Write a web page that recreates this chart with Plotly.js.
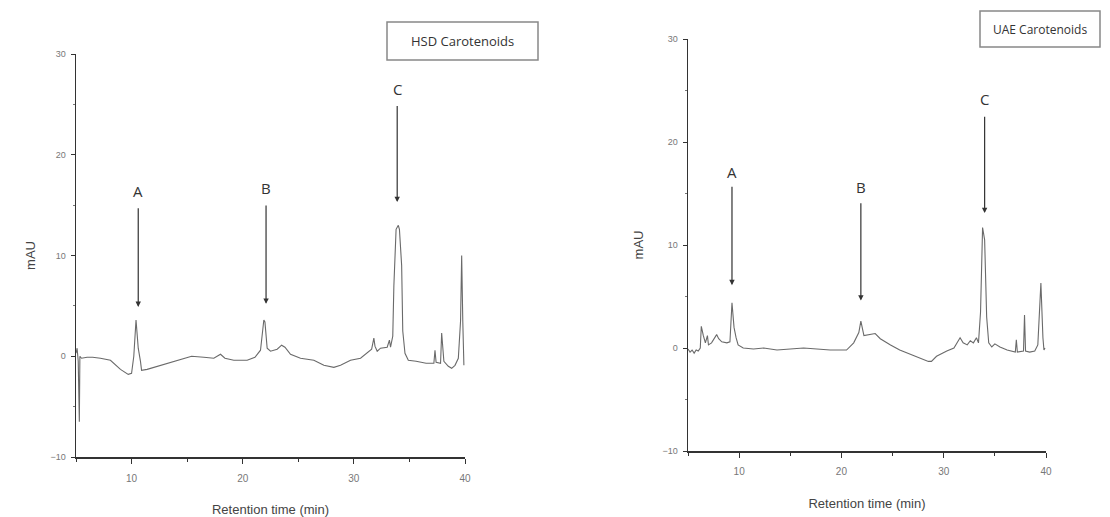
<!DOCTYPE html>
<html>
<head>
<meta charset="utf-8">
<script src="https://cdn.plot.ly/plotly-3.0.1.min.js"></script>
<style>html,body{margin:0;padding:0;background:#fff;}#chart{width:1110px;height:517px;}</style>
</head>
<body>
<div id="chart"></div>
<script>
// HSD carotenoids chromatogram (left panel)
const hsdTime = [5.0,5.1,5.2,5.3,5.35,5.5,6.0,6.5,7.2,8.1,9.0,9.7,10.0,10.2,10.4,10.5,10.6,10.8,10.9,11.4,12.3,13.2,14.4,15.4,16.5,17.4,18.0,18.4,19.2,20.4,21.1,21.6,21.9,22.0,22.2,22.5,23.1,23.5,23.8,24.3,25.2,26.4,27.3,28.2,28.8,29.7,30.6,31.2,31.6,31.8,31.9,32.1,32.4,33.0,33.2,33.3,33.5,33.6,33.8,34.0,34.1,34.3,34.4,34.6,34.9,35.6,36.5,37.2,37.3,37.4,37.8,37.9,38.1,38.5,38.8,39.1,39.4,39.6,39.7,39.8,39.9];
const hsdMAU  = [0.3,0.8,-0.5,-6.5,0.0,-0.2,-0.1,-0.1,-0.2,-0.4,-1.3,-1.8,-1.7,0.0,3.6,1.5,0.8,-0.5,-1.4,-1.3,-1.0,-0.7,-0.3,0.0,-0.1,-0.2,0.2,-0.2,-0.4,-0.4,-0.1,0.6,3.6,3.4,0.8,0.5,0.7,1.1,0.9,0.2,-0.2,-0.4,-0.9,-1.1,-0.9,-0.4,-0.2,0.3,0.7,1.8,1.0,0.5,0.8,0.9,1.6,0.9,2.0,7.0,12.6,13.0,12.6,9.0,2.5,0.3,-0.4,-0.5,-0.7,-0.7,0.6,-0.6,-0.7,2.3,-0.5,-1.0,-1.2,-0.9,-0.2,3.5,10.0,3.5,-0.9];

// UAE carotenoids chromatogram (right panel)
const uaeTime = [5.0,5.2,5.4,5.6,5.8,6.0,6.2,6.3,6.5,6.7,6.9,7.0,7.3,7.8,8.0,8.3,8.8,9.1,9.3,9.4,9.5,9.7,9.9,10.4,11.4,12.4,13.7,15.0,16.3,17.6,18.9,20.5,21.2,21.7,21.9,22.2,22.6,23.3,23.8,24.1,24.8,25.7,26.7,27.7,28.5,28.8,29.3,30.3,31.0,31.6,31.9,32.3,32.6,32.9,33.2,33.4,33.6,33.8,34.0,34.2,34.4,34.7,35.0,35.5,36.2,37.0,37.1,37.2,37.8,37.9,38.0,38.4,38.9,39.2,39.5,39.7,39.8,39.9];
const uaeMAU  = [-0.1,-0.4,-0.2,-0.5,-0.2,-0.3,0.0,2.1,1.2,0.5,1.2,0.3,0.5,1.3,0.9,0.6,0.5,0.6,4.4,2.5,2.0,1.0,0.3,0.0,-0.1,0.0,-0.2,-0.1,0.0,-0.1,-0.2,-0.2,0.5,1.5,2.6,1.2,1.3,1.4,0.9,0.7,0.3,-0.2,-0.6,-1.0,-1.3,-1.3,-0.8,-0.3,0.0,1.0,0.5,0.3,0.7,0.5,1.0,0.5,3.5,11.7,10.5,3.0,0.5,0.1,0.4,0.1,-0.2,-0.4,0.8,-0.4,-0.3,3.2,-0.3,-0.4,-0.3,0.3,6.3,1.0,-0.2,0.0];

// Peak labels
const peakNames = ['A','B','C'];
const hsdPeakX   = [10.6, 22.1, 33.9];
const hsdHeadY   = [4.9, 5.2, 15.3];
const hsdTailY   = [14.85, 15.1, 25.0];
const hsdLabelY  = [16.4, 16.7, 26.5];
const uaePeakX   = [9.3, 21.9, 34.0];
const uaeHeadY   = [6.1, 4.6, 13.1];
const uaeTailY   = [15.8, 14.2, 22.6];
const uaeLabelY  = [17.1, 15.6, 24.2];

const panelTitles = ['HSD Carotenoids', 'UAE Carotenoids'];
const xTitle = 'Retention time (min)';
const yTitle = 'mAU';

const narrow = '"Liberation Sans Narrow", "Open Sans", sans-serif';
const axisCol = '#333';
const lineCol = '#6a6a6a';

const traces = [
  {x: hsdTime, y: hsdMAU, xaxis: 'x', yaxis: 'y', type: 'scatter', mode: 'lines',
   line: {color: lineCol, width: 1.1}, hoverinfo: 'x+y'},
  {x: uaeTime, y: uaeMAU, xaxis: 'x2', yaxis: 'y2', type: 'scatter', mode: 'lines',
   line: {color: lineCol, width: 1.1}, hoverinfo: 'x+y'}
];

function xAxis(domain, anchor, standoff, labelOff) {
  return {
    domain: domain, anchor: anchor, range: [5, 40], dtick: 10, tick0: 0,
    showgrid: false, zeroline: false, showline: true, linecolor: axisCol, linewidth: 1.5,
    ticks: 'outside', ticklen: 5, tickwidth: 1, tickcolor: axisCol, ticklabelstandoff: labelOff,
    minor: {dtick: 5, ticks: 'outside', ticklen: 3, tickcolor: axisCol, showgrid: false},
    tickfont: {family: 'Liberation Sans, Arial, sans-serif', size: 10, color: '#777'},
    title: {text: xTitle, font: {family: 'Liberation Sans, Arial, sans-serif', size: 13, color: '#444'}, standoff: standoff},
    fixedrange: true
  };
}
function yAxis(domain, anchor, standoff) {
  return {
    domain: domain, anchor: anchor, range: [-10, 30], dtick: 10,
    showgrid: false, zeroline: false, showline: true, linecolor: axisCol, linewidth: 1.5,
    ticks: 'outside', ticklen: 4, tickwidth: 1, tickcolor: axisCol, ticklabelstandoff: 3,
    minor: {dtick: 5, ticks: 'outside', ticklen: 2, tickcolor: '#777', showgrid: false},
    tickfont: {family: 'Liberation Sans, Arial, sans-serif', size: 9, color: '#777'},
    title: {text: yTitle, font: {family: 'Liberation Sans, Arial, sans-serif', size: 13, color: '#444'}, standoff: standoff},
    fixedrange: true
  };
}

const annotations = [];
function addPeaks(xs, heads, tails, labels, xr, yr) {
  for (let i = 0; i < peakNames.length; i++) {
    annotations.push({
      x: xs[i], y: heads[i], ax: xs[i], ay: tails[i], xref: xr, yref: yr, axref: xr, ayref: yr,
      text: '', showarrow: true, arrowhead: 2, arrowsize: 0.9, arrowwidth: 1.2, arrowcolor: '#333'
    });
    annotations.push({
      x: xs[i], y: labels[i], xref: xr, yref: yr, text: peakNames[i], showarrow: false,
      xanchor: 'center', yanchor: 'middle',
      font: {family: narrow, size: 15, color: '#333'}
    });
  }
}
addPeaks(hsdPeakX, hsdHeadY, hsdTailY, hsdLabelY, 'x', 'y');
addPeaks(uaePeakX, uaeHeadY, uaeTailY, uaeLabelY, 'x2', 'y2');

// boxed panel titles
const boxes = [
  {x0: 387, x1: 538, y0: 22, y1: 60},
  {x0: 980, x1: 1100, y0: 11, y1: 47}
];
const W = 1110, H = 517;
const shapes = boxes.map(b => ({
  type: 'rect', xref: 'paper', yref: 'paper',
  x0: b.x0 / W, x1: b.x1 / W, y0: 1 - b.y1 / H, y1: 1 - b.y0 / H,
  line: {color: '#888', width: 1.5}, fillcolor: 'rgba(0,0,0,0)'
}));
boxes.forEach((b, i) => {
  annotations.push({
    x: (b.x0 + b.x1) / 2 / W, y: 1 - (b.y0 + b.y1) / 2 / H, xref: 'paper', yref: 'paper',
    xanchor: 'center', yanchor: 'middle',
    text: panelTitles[i], showarrow: false,
    font: {family: narrow, size: i === 0 ? 13 : 12, color: '#333'}
  });
});

const layout = {
  width: W, height: H,
  margin: {l: 0, r: 0, t: 0, b: 0},
  paper_bgcolor: '#fff', plot_bgcolor: '#fff',
  showlegend: false,
  xaxis: xAxis([76 / W, 465 / W], 'y', 29, 6),
  yaxis: yAxis([1 - 457 / H, 1 - 54 / H], 'x', 12),
  xaxis2: xAxis([688 / W, 1046 / W], 'y2', 23, 5),
  yaxis2: yAxis([1 - 451 / H, 1 - 39 / H], 'x2', 16),
  annotations: annotations,
  shapes: shapes
};

Plotly.newPlot('chart', traces, layout, {displayModeBar: false, staticPlot: true});
</script>
</body>
</html>
